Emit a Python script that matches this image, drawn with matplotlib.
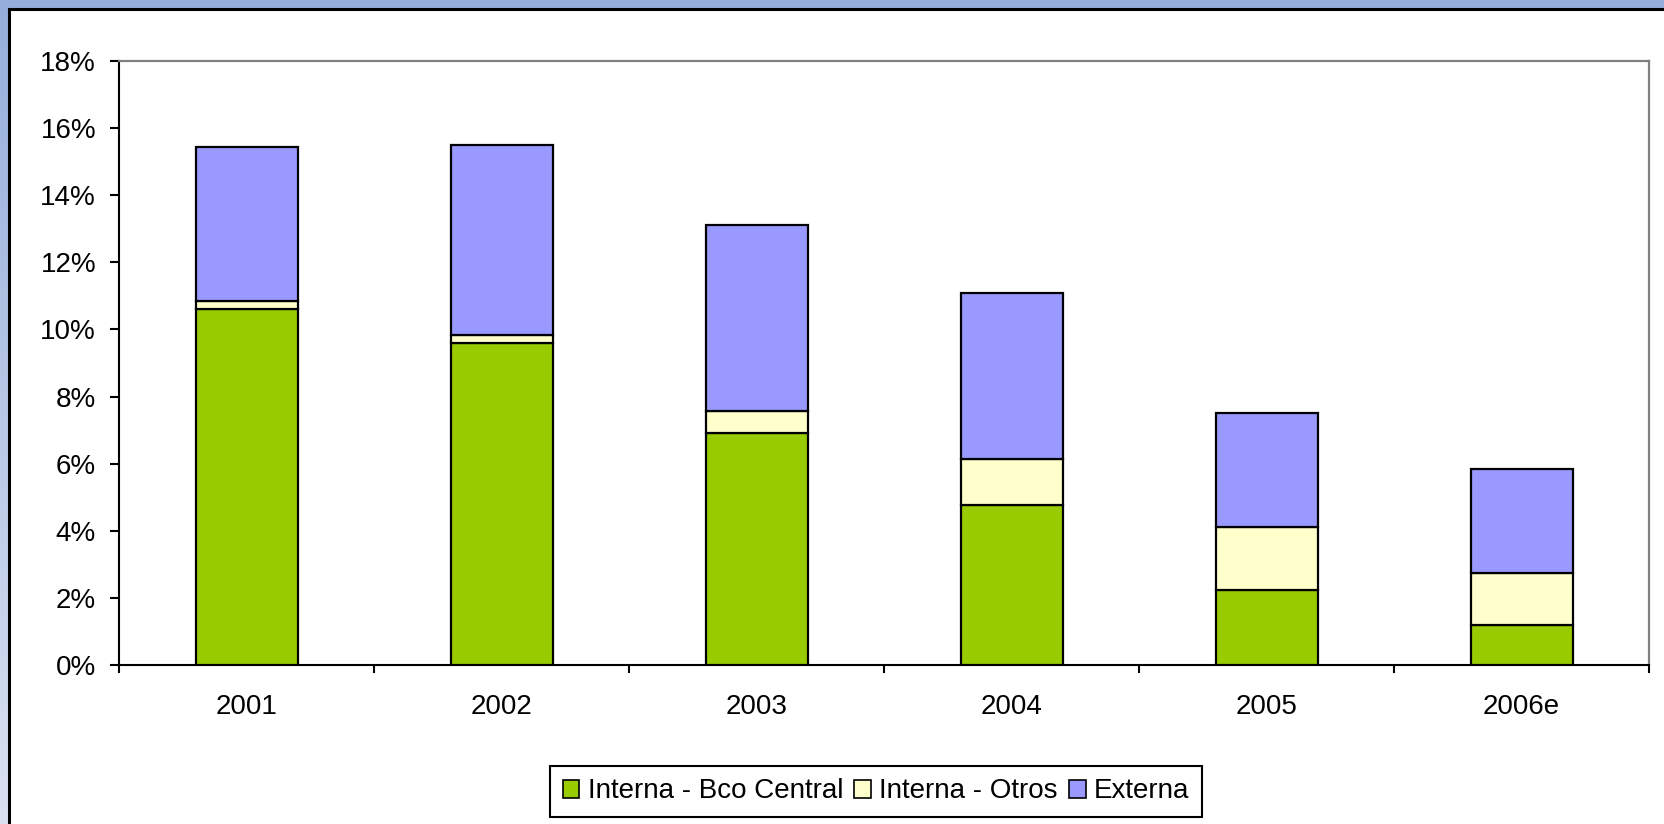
import numpy as np
import matplotlib
matplotlib.use('Agg')
import matplotlib.pyplot as plt
from matplotlib.patches import Rectangle
from matplotlib.ticker import FuncFormatter, FixedLocator

years = ['2001', '2002', '2003', '2004', '2005', '2006e']
bco_central = [10.61, 9.59, 6.91, 4.77, 2.25, 1.19]
otros = [0.24, 0.24, 0.66, 1.38, 1.87, 1.55]
externa = [4.59, 5.66, 5.54, 4.93, 3.39, 3.10]

colors = ['#99CC00', '#FFFFCC', '#9999FF']
labels = ['Interna - Bco Central', 'Interna - Otros', 'Externa']

plt.rcParams['font.family'] = ['Liberation Sans', 'DejaVu Sans']

W, H = 1664, 824
fig = plt.figure(figsize=(W / 100, H / 100), dpi=100)

# background: blue gradient frame with white panel
bg = fig.add_axes([0, 0, 1, 1], zorder=-10)
grad = np.linspace(0, 1, 256).reshape(-1, 1)
top_c = np.array([0x95, 0xAE, 0xDB]) / 255
bot_c = np.array([0xDA, 0xE1, 0xF1]) / 255
img = top_c[None, None, :] * (1 - grad[:, :, None]) + bot_c[None, None, :] * grad[:, :, None]
bg.imshow(img, aspect='auto', extent=[0, 1, 0, 1])
bg.add_patch(Rectangle((9 / W, -0.01), 1.0, 1 - 9 / H + 0.01, facecolor='white',
                       edgecolor='black', linewidth=2.2))
bg.set_xlim(0, 1)
bg.set_ylim(0, 1)
bg.axis('off')

ax = fig.add_axes([119 / W, (H - 665) / H, (1649 - 119) / W, (665 - 61) / H])
x = np.arange(len(years))
bottom = np.zeros(len(years))
for vals, c, lab in zip([bco_central, otros, externa], colors, labels):
    ax.bar(x, vals, width=0.4, bottom=bottom, color=c, edgecolor='black',
           linewidth=1.6, label=lab, zorder=3)
    bottom += np.array(vals)

ax.set_xlim(-0.5, len(years) - 0.5)
ax.set_ylim(0, 18)
ax.set_yticks(np.arange(0, 19, 2))
ax.yaxis.set_major_formatter(FuncFormatter(lambda v, p: f'{v:.0f}%'))
ax.xaxis.set_major_locator(FixedLocator(np.arange(-0.5, len(years), 1.0)))
ax.xaxis.set_major_formatter(FuncFormatter(lambda v, p: ''))
ax.set_xticks(x, minor=True)
ax.set_xticklabels(years, minor=True)
ax.tick_params(axis='x', which='minor', length=0, pad=21, labelsize=20)
ax.tick_params(axis='x', which='major', direction='out', length=6, width=1.5)
ax.tick_params(axis='y', direction='out', length=6.5, width=1.5, pad=10, labelsize=20)

for s in ['left', 'bottom']:
    ax.spines[s].set_color('black')
    ax.spines[s].set_linewidth(1.5)
for s in ['top', 'right']:
    ax.spines[s].set_color('#808080')
    ax.spines[s].set_linewidth(1.6)

leg = fig.legend(loc='center', bbox_to_anchor=(876 / W, 1 - 791.5 / H),
                 ncol=3, fontsize=20, frameon=True, fancybox=False,
                 edgecolor='black', framealpha=1, handlelength=0.6,
                 handleheight=0.6, handletextpad=0.3, columnspacing=0.4,
                 borderpad=0.45, borderaxespad=0)
leg.get_frame().set_linewidth(1.5)
for h in leg.legend_handles:
    h.set_linewidth(1.2)

fig.savefig('out.png', dpi=100)
